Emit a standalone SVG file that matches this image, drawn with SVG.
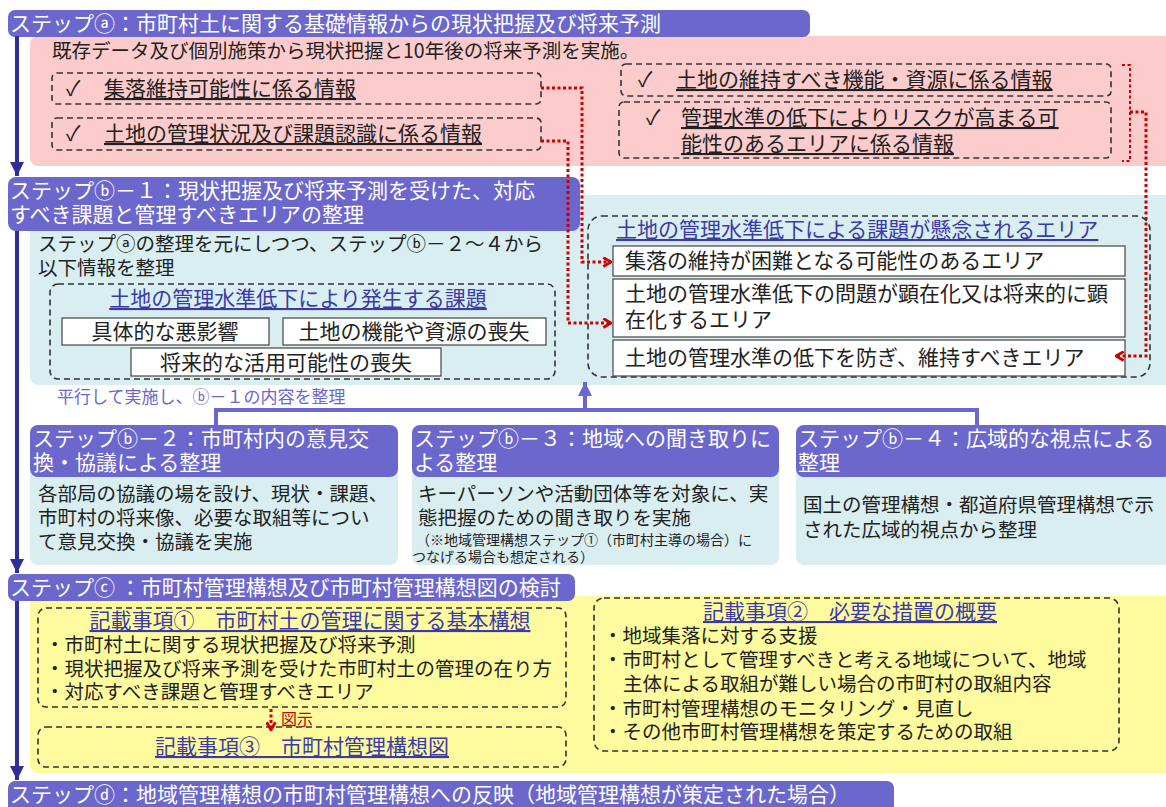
<svg xmlns="http://www.w3.org/2000/svg" width="1166" height="807" viewBox="0 0 1166 807">
<style>
text{font-family:"Noto Sans CJK JP","Noto Sans CJK SC",sans-serif;fill:#222}
.hdr{fill:#6b67cc}
.ht{fill:#fff;font-size:21px}
.b{font-size:19.5px}
.it{font-size:21px}
.ttl{fill:#3b3ba8;font-size:21px;text-decoration:underline}
.u{text-decoration:underline}
.dash{fill:none;stroke:#333;stroke-width:1.6;stroke-dasharray:6 4}
.wbox{fill:#fff;stroke:#444;stroke-width:1.2}
.red{fill:none;stroke:#cc0000;stroke-width:3;stroke-dasharray:3 2.5}
.nav{fill:none;stroke:#2e2e9a;stroke-width:4}
.pur{fill:none;stroke:#6b67cc;stroke-width:4}
</style>
<defs>
<marker id="rarr" viewBox="0 0 10 10" refX="9" refY="5" markerWidth="11" markerHeight="11" markerUnits="userSpaceOnUse" orient="auto"><path d="M2,1 L9,5 L2,9" fill="none" stroke="#cc0000" stroke-width="2.6"/></marker>
<marker id="narr" viewBox="0 0 10 10" refX="10" refY="5" markerWidth="14" markerHeight="14" markerUnits="userSpaceOnUse" orient="auto"><path d="M0,0 L10,5 L0,10 Z" fill="#2e2e9a"/></marker>
<marker id="parr" viewBox="0 0 10 10" refX="10" refY="5" markerWidth="14" markerHeight="14" markerUnits="userSpaceOnUse" orient="auto"><path d="M0,0 L10,5 L0,10 Z" fill="#6b67cc"/></marker>
</defs>

<!-- backgrounds -->
<rect x="30" y="36" width="1145" height="130" rx="8" fill="#fccccc"/>
<rect x="30" y="195" width="1145" height="190" rx="8" fill="#d9eef0"/>
<rect x="30" y="596" width="1145" height="177" rx="8" fill="#fefb9e"/>

<g id="step-a">
<rect class="hdr" x="8" y="10" width="802" height="27" rx="7"/>
<text class="ht" x="10" y="31">ステップⓐ：市町村土に関する基礎情報からの現状把握及び将来予測</text>
<text x="52" y="58" style="font-size:19.5px">既存データ及び個別施策から現状把握と10年後の将来予測を実施。</text>
</g>
<g id="info-1">
<rect class="dash" x="52" y="73" width="489" height="31" rx="5"/>
<text class="it" x="66" y="96">✓</text>
<text class="it u" x="104" y="96">集落維持可能性に係る情報</text>
</g>
<g id="info-2">
<rect class="dash" x="52" y="118" width="489" height="32" rx="5"/>
<text class="it" x="66" y="141">✓</text>
<text class="it u" x="104" y="141">土地の管理状況及び課題認識に係る情報</text>
</g>
<g id="info-3">
<rect class="dash" x="621" y="64" width="490" height="32" rx="5"/>
<text class="it" x="638" y="87">✓</text>
<text class="it u" x="676" y="87">土地の維持すべき機能・資源に係る情報</text>
</g>
<g id="info-4">
<rect class="dash" x="619" y="102" width="492" height="56" rx="5"/>
<text class="it" x="646" y="125">✓</text>
<text class="it u" x="681" y="125">管理水準の低下によりリスクが高まる可</text>
<text class="it u" x="681" y="151">能性のあるエリアに係る情報</text>
</g>

<g id="step-b1">
<rect class="hdr" x="8" y="177" width="572" height="54" rx="8"/>
<text class="ht" x="10" y="198">ステップⓑ－１：現状把握及び将来予測を受けた、対応</text>
<text class="ht" x="10" y="222">すべき課題と管理すべきエリアの整理</text>
<text class="b" x="38" y="251">ステップⓐの整理を元にしつつ、ステップⓑ－２～４から</text>
<text class="b" x="38" y="275">以下情報を整理</text>
</g>
<g id="issues">
<rect class="dash" x="50" y="284" width="505" height="95" rx="8"/>
<text class="ttl" x="298" y="306" text-anchor="middle">土地の管理水準低下により発生する課題</text>
<rect class="wbox" x="62" y="318" width="207" height="27"/>
<text class="it" x="165" y="339" text-anchor="middle">具体的な悪影響</text>
<rect class="wbox" x="283" y="318" width="263" height="27"/>
<text class="it" x="414" y="339" text-anchor="middle">土地の機能や資源の喪失</text>
<rect class="wbox" x="131" y="348" width="310" height="28"/>
<text class="it" x="286" y="370" text-anchor="middle">将来的な活用可能性の喪失</text>
</g>
<g id="areas">
<rect class="dash" x="588" y="216" width="562" height="161" rx="14"/>
<text class="ttl" x="616" y="237">土地の管理水準低下による課題が懸念されるエリア</text>
<rect class="wbox" x="613" y="246" width="512" height="30"/>
<text class="it" x="625" y="268">集落の維持が困難となる可能性のあるエリア</text>
<rect class="wbox" x="613" y="279" width="512" height="58"/>
<text class="it" x="625" y="301">土地の管理水準低下の問題が顕在化又は将来的に顕</text>
<text class="it" x="625" y="327">在化するエリア</text>
<rect class="wbox" x="613" y="340" width="512" height="36"/>
<text class="it" x="625" y="365">土地の管理水準の低下を防ぎ、維持すべきエリア</text>
</g>

<text x="57" y="403" style="font-size:17px;fill:#6b67cc">平行して実施し、ⓑ－１の内容を整理</text>

<g id="step-b2">
<rect x="30" y="440" width="368" height="125" rx="8" fill="#d9eef0"/>
<rect class="hdr" x="30" y="425" width="368" height="52" rx="8"/>
<text class="ht" x="33" y="446">ステップⓑ－２：市町村内の意見交</text>
<text class="ht" x="33" y="470">換・協議による整理</text>
<text class="b" x="38" y="501">各部局の協議の場を設け、現状・課題、</text>
<text class="b" x="38" y="525">市町村の将来像、必要な取組等につい</text>
<text class="b" x="38" y="549">て意見交換・協議を実施</text>
</g>
<g id="step-b3">
<rect x="412" y="440" width="367" height="125" rx="8" fill="#d9eef0"/>
<rect class="hdr" x="412" y="425" width="367" height="52" rx="8"/>
<text class="ht" x="414" y="446">ステップⓑ－３：地域への聞き取りに</text>
<text class="ht" x="414" y="470">よる整理</text>
<text class="b" x="418" y="501">キーパーソンや活動団体等を対象に、実</text>
<text class="b" x="418" y="525">態把握のための聞き取りを実施</text>
<text x="416" y="545" style="font-size:14px">（※地域管理構想ステップ①（市町村主導の場合）に</text>
<text x="412" y="562" style="font-size:14px">つなげる場合も想定される）</text>
</g>
<g id="step-b4">
<rect x="796" y="440" width="375" height="125" rx="8" fill="#d9eef0"/>
<rect class="hdr" x="796" y="425" width="375" height="52" rx="8"/>
<text class="ht" x="798" y="446">ステップⓑ－４：広域的な視点による</text>
<text class="ht" x="798" y="470">整理</text>
<text class="b" x="803" y="512">国土の管理構想・都道府県管理構想で示</text>
<text class="b" x="803" y="537">された広域的視点から整理</text>
</g>

<g id="step-c">
<rect class="hdr" x="8" y="574" width="567" height="27" rx="7"/>
<text class="ht" x="10" y="595">ステップⓒ ：市町村管理構想及び市町村管理構想図の検討</text>
</g>
<g id="item-1">
<rect class="dash" x="38" y="608" width="528" height="99" rx="8"/>
<text class="ttl" x="310" y="628" text-anchor="middle">記載事項①　市町村土の管理に関する基本構想</text>
<text class="b" x="45" y="652">・市町村土に関する現状把握及び将来予測</text>
<text class="b" x="45" y="676">・現状把握及び将来予測を受けた市町村土の管理の在り方</text>
<text class="b" x="45" y="699">・対応すべき課題と管理すべきエリア</text>
</g>
<text x="281" y="725" style="font-size:16px;fill:#cc0000">図示</text>
<g id="item-3">
<rect class="dash" x="38" y="727" width="528" height="40" rx="8"/>
<text class="ttl" x="302" y="754" text-anchor="middle">記載事項③　市町村管理構想図</text>
</g>
<g id="item-2">
<rect class="dash" x="594" y="598" width="525" height="153" rx="10"/>
<text class="ttl" x="850" y="619" text-anchor="middle">記載事項②　必要な措置の概要</text>
<text class="b" x="603" y="643">・地域集落に対する支援</text>
<text class="b" x="603" y="667">・市町村として管理すべきと考える地域について、地域</text>
<text class="b" x="623" y="691">主体による取組が難しい場合の市町村の取組内容</text>
<text class="b" x="603" y="716">・市町村管理構想のモニタリング・見直し</text>
<text class="b" x="603" y="739">・その他市町村管理構想を策定するための取組</text>
</g>

<g id="step-d">
<rect class="hdr" x="8" y="781" width="886" height="32" rx="7"/>
<text class="ht" x="10" y="802">ステップⓓ：地域管理構想の市町村管理構想への反映（地域管理構想が策定された場合）</text>
</g>

<g id="connectors">
<path class="nav" d="M17,36 V176" marker-end="url(#narr)"/>
<path class="nav" d="M17,231 V573" marker-end="url(#narr)"/>
<path class="nav" d="M17,601 V780" marker-end="url(#narr)"/>
<path class="pur" d="M216,425 V410 H977 V425"/>
<path class="pur" d="M585,410 V382" marker-end="url(#parr)"/>
<path class="red" d="M541,88 H582 V262 H611" marker-end="url(#rarr)"/>
<path class="red" d="M541,141 H568 V323 H611" marker-end="url(#rarr)"/>
<path class="red" style="stroke-width:2" d="M1122,65 H1130 V161 H1122"/>
<path class="red" d="M1130,112 H1146 V356 H1116" marker-end="url(#rarr)"/>
<path class="red" d="M271,709 V730" marker-end="url(#rarr)"/>
</g>
</svg>
